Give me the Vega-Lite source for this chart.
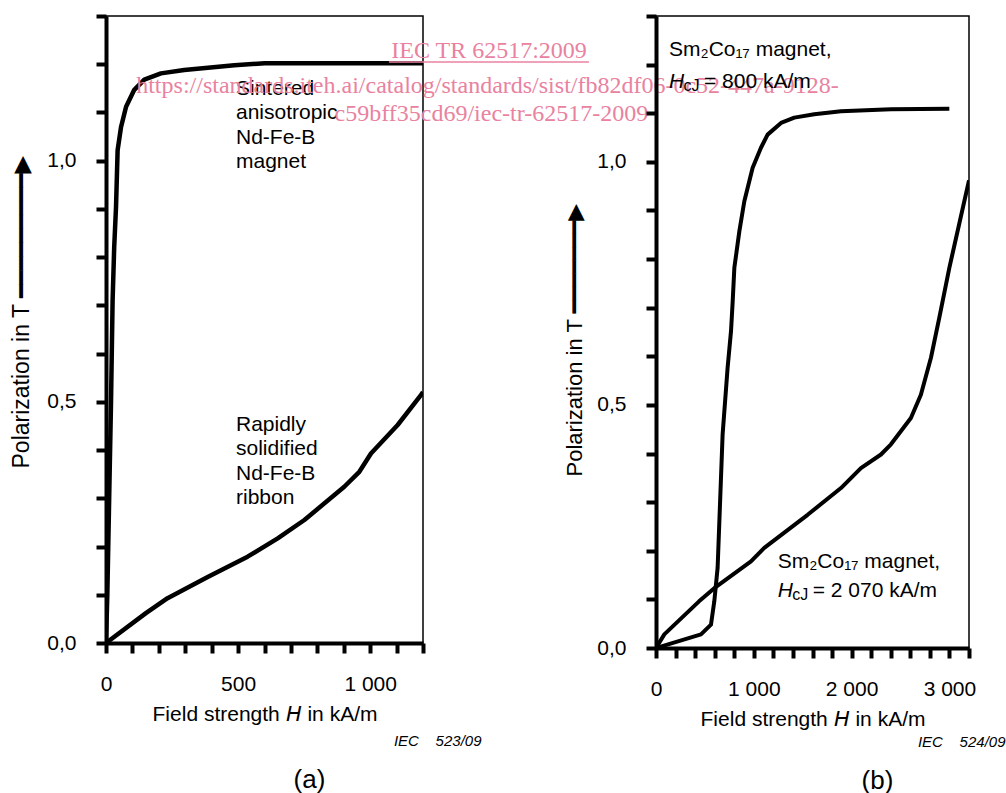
{
  "$schema": "https://vega.github.io/schema/vega-lite/v6.json",
  "background": "white",
  "padding": {"left": 9, "top": 4, "right": 0, "bottom": 0},
  "bounds": "flush",
  "spacing": 233,
  "config": {
    "font": "Liberation Sans",
    "view": {"stroke": "black", "strokeWidth": 1.5},
    "axis": {
      "domainColor": "black", "domainWidth": 4, "tickColor": "black", "tickWidth": 4, "tickSize": 10,
      "labelFont": "Liberation Sans", "labelFontSize": 21, "labelColor": "black", "labelPadding": 20,
      "labelFlush": false, "labelOverlap": false,
      "titleFont": "Liberation Sans, DejaVu Sans", "titleFontSize": 21, "titleFontWeight": "normal", "titleColor": "black",
      "grid": false
    }
  },
  "datasets": {
    "curvesA": [
      {"series": "sintered", "H": 0, "J": 0},
      {"series": "sintered", "H": 5, "J": 0.1},
      {"series": "sintered", "H": 12, "J": 0.3},
      {"series": "sintered", "H": 19, "J": 0.5},
      {"series": "sintered", "H": 25, "J": 0.71},
      {"series": "sintered", "H": 31, "J": 0.82},
      {"series": "sintered", "H": 38, "J": 0.905},
      {"series": "sintered", "H": 44, "J": 1.022},
      {"series": "sintered", "H": 57, "J": 1.07},
      {"series": "sintered", "H": 76, "J": 1.112},
      {"series": "sintered", "H": 107, "J": 1.147},
      {"series": "sintered", "H": 145, "J": 1.168},
      {"series": "sintered", "H": 208, "J": 1.181},
      {"series": "sintered", "H": 296, "J": 1.188},
      {"series": "sintered", "H": 486, "J": 1.198},
      {"series": "sintered", "H": 600, "J": 1.202},
      {"series": "sintered", "H": 1200, "J": 1.202},
      {"series": "ribbon", "H": 0, "J": 0},
      {"series": "ribbon", "H": 151, "J": 0.062},
      {"series": "ribbon", "H": 233, "J": 0.093},
      {"series": "ribbon", "H": 385, "J": 0.137},
      {"series": "ribbon", "H": 536, "J": 0.179},
      {"series": "ribbon", "H": 650, "J": 0.217},
      {"series": "ribbon", "H": 751, "J": 0.255},
      {"series": "ribbon", "H": 902, "J": 0.324},
      {"series": "ribbon", "H": 959, "J": 0.355},
      {"series": "ribbon", "H": 1003, "J": 0.393},
      {"series": "ribbon", "H": 1104, "J": 0.452},
      {"series": "ribbon", "H": 1192, "J": 0.514},
      {"series": "ribbon", "H": 1200, "J": 0.52}
    ],
    "curvesB": [
      {"series": "800", "H": 0, "J": 0},
      {"series": "800", "H": 460, "J": 0.028},
      {"series": "800", "H": 562, "J": 0.048},
      {"series": "800", "H": 596, "J": 0.096},
      {"series": "800", "H": 630, "J": 0.165},
      {"series": "800", "H": 681, "J": 0.439},
      {"series": "800", "H": 732, "J": 0.576},
      {"series": "800", "H": 767, "J": 0.652},
      {"series": "800", "H": 784, "J": 0.713},
      {"series": "800", "H": 801, "J": 0.782},
      {"series": "800", "H": 852, "J": 0.857},
      {"series": "800", "H": 903, "J": 0.919},
      {"series": "800", "H": 988, "J": 0.988},
      {"series": "800", "H": 1073, "J": 1.029},
      {"series": "800", "H": 1141, "J": 1.056},
      {"series": "800", "H": 1278, "J": 1.08},
      {"series": "800", "H": 1414, "J": 1.091},
      {"series": "800", "H": 1618, "J": 1.098},
      {"series": "800", "H": 1891, "J": 1.104},
      {"series": "800", "H": 2402, "J": 1.108},
      {"series": "800", "H": 2999, "J": 1.109},
      {"series": "2070", "H": 0, "J": 0},
      {"series": "2070", "H": 85, "J": 0.028},
      {"series": "2070", "H": 440, "J": 0.096},
      {"series": "2070", "H": 596, "J": 0.123},
      {"series": "2070", "H": 971, "J": 0.178},
      {"series": "2070", "H": 1107, "J": 0.206},
      {"series": "2070", "H": 1550, "J": 0.274},
      {"series": "2070", "H": 1891, "J": 0.329},
      {"series": "2070", "H": 2095, "J": 0.37},
      {"series": "2070", "H": 2300, "J": 0.398},
      {"series": "2070", "H": 2402, "J": 0.419},
      {"series": "2070", "H": 2606, "J": 0.473},
      {"series": "2070", "H": 2708, "J": 0.521},
      {"series": "2070", "H": 2811, "J": 0.597},
      {"series": "2070", "H": 2896, "J": 0.679},
      {"series": "2070", "H": 2999, "J": 0.782},
      {"series": "2070", "H": 3200, "J": 0.962}
    ],
    "labelsA": [
      {"H": 492, "J": 1.136, "text": "Sintered\nanisotropic\nNd-Fe-B\nmagnet"},
      {"H": 492, "J": 0.4395, "text": "Rapidly\nsolidified\nNd-Fe-B\nribbon"}
    ],
    "watermark": [
      {"H": 1450, "J": 1.2129, "text": "IEC TR 62517:2009"},
      {"H": 1444, "J": 1.1403, "text": "https://standards.iteh.ai/catalog/standards/sist/fb82df06-0c52-447a-9128-"},
      {"H": 1459, "J": 1.0823, "text": "c59bff35cd69/iec-tr-62517-2009"}
    ],
    "underline": [
      {"H": 1071, "H2": 1828, "J": 1.2046}
    ],
    "labelsB": [
      {"H": 133, "J": 1.2177, "text": "Sm₂Co₁₇ magnet,"},
      {"H": 1244, "J": 0.1648, "text": "Sm₂Co₁₇ magnet,"}
    ],
    "hcjB": [
      {"H": 133, "J": 1.1519, "text": "= 800 kA/m"},
      {"H": 1244, "J": 0.1045, "text": "= 2 070 kA/m"}
    ]
  },
  "hconcat": [
    {
      "width": 317,
      "height": 627,
      "resolve": {"axis": {"x": "independent"}},
      "layer": [
        {
          "data": {"name": "curvesA"},
          "mark": {"type": "line", "color": "black", "strokeWidth": 4.5, "strokeJoin": "round", "clip": true},
          "encoding": {
            "x": {
              "field": "H", "type": "quantitative",
              "scale": {"domain": [0, 1200], "nice": false, "zero": false},
              "axis": {
                "values": [0, 100, 200, 300, 400, 500, 600, 700, 800, 900, 1000, 1100, 1200],
                "labelExpr": "datum.value % 500 === 0 ? replace(format(datum.value, ','), ',', ' ') : ''",
                "title": "Field strength 𝘏 in kA/m",
                "titlePadding": 9
              }
            },
            "y": {
              "field": "J", "type": "quantitative",
              "scale": {"domain": [0, 1.3], "nice": false},
              "axis": {
                "values": [0, 0.1, 0.2, 0.3, 0.4, 0.5, 0.6, 0.7, 0.8, 0.9, 1, 1.1, 1.2, 1.3],
                "labelExpr": "round(datum.value * 10) % 5 === 0 ? replace(format(datum.value, '.1f'), '.', ',') : ''",
                "title": "Polarization in T ━━━━━━━━━▶",
                "titleFontSize": 23,
                "titleAngle": 270,
                "titleAlign": "left",
                "titleBaseline": "alphabetic",
                "titleX": -78,
                "titleY": 452
              }
            },
            "detail": {"field": "series", "type": "nominal"}
          }
        },
        {
          "data": {"name": "labelsA"},
          "mark": {"type": "text", "align": "left", "baseline": "alphabetic", "fontSize": 21, "lineBreak": "\n", "lineHeight": 24.3, "color": "black"},
          "encoding": {
            "x": {
              "field": "H", "type": "quantitative",
              "axis": {
                "orient": "bottom", "labels": false, "ticks": false, "domain": false,
                "title": "IEC\u00a0\u00a0\u00a0\u00a0523/09",
                "titleFontStyle": "italic", "titleFontSize": 15,
                "titleAlign": "right", "titleBaseline": "alphabetic",
                "titleX": 375, "titleY": 102.7
              }
            },
            "y": {"field": "J", "type": "quantitative"},
            "text": {"field": "text", "type": "nominal"}
          }
        },
        {
          "data": {"name": "watermark"},
          "mark": {"type": "text", "align": "center", "baseline": "alphabetic", "font": "Liberation Serif", "fontSize": 24, "color": "#e9829f"},
          "encoding": {
            "x": {
              "field": "H", "type": "quantitative",
              "axis": {
                "orient": "bottom", "labels": false, "ticks": false, "domain": false,
                "title": "(a)",
                "titleFontSize": 26,
                "titleAlign": "center", "titleBaseline": "alphabetic",
                "titleX": 203, "titleY": 144
              }
            },
            "y": {"field": "J", "type": "quantitative"},
            "text": {"field": "text", "type": "nominal"}
          }
        },
        {
          "data": {"name": "underline"},
          "mark": {"type": "rule", "color": "#e9829f", "strokeWidth": 1.5},
          "encoding": {
            "x": {"field": "H", "type": "quantitative", "axis": null},
            "x2": {"field": "H2"},
            "y": {"field": "J", "type": "quantitative"}
          }
        }
      ]
    },
    {
      "width": 313,
      "height": 632,
      "resolve": {"axis": {"x": "independent"}},
      "layer": [
        {
          "data": {"name": "curvesB"},
          "mark": {"type": "line", "color": "black", "strokeWidth": 4, "strokeJoin": "round", "clip": true},
          "encoding": {
            "x": {
              "field": "H", "type": "quantitative",
              "scale": {"domain": [0, 3200], "nice": false, "zero": false},
              "axis": {
                "values": [0, 200, 400, 600, 800, 1000, 1200, 1400, 1600, 1800, 2000, 2200, 2400, 2600, 2800, 3000, 3200],
                "labelExpr": "datum.value % 1000 === 0 ? replace(format(datum.value, ','), ',', ' ') : ''",
                "title": "Field strength 𝘏 in kA/m",
                "titlePadding": 9
              }
            },
            "y": {
              "field": "J", "type": "quantitative",
              "scale": {"domain": [0, 1.3], "nice": false},
              "axis": {
                "values": [0, 0.1, 0.2, 0.3, 0.4, 0.5, 0.6, 0.7, 0.8, 0.9, 1, 1.1, 1.2, 1.3],
                "labelExpr": "round(datum.value * 10) % 5 === 0 ? replace(format(datum.value, '.1f'), '.', ',') : ''",
                "title": "Polarization in T ━━━━━━━▶",
                "titleFontSize": 22,
                "titleAngle": 270,
                "titleAlign": "left",
                "titleBaseline": "alphabetic",
                "titleX": -75,
                "titleY": 460
              }
            },
            "detail": {"field": "series", "type": "nominal"}
          }
        },
        {
          "data": {"name": "labelsB"},
          "mark": {"type": "text", "align": "left", "baseline": "alphabetic", "fontSize": 21, "font": "Liberation Sans, DejaVu Sans", "color": "black"},
          "encoding": {
            "x": {
              "field": "H", "type": "quantitative",
              "axis": {
                "orient": "bottom", "labels": false, "ticks": false, "domain": false,
                "title": "IEC\u00a0\u00a0\u00a0\u00a0524/09",
                "titleFontStyle": "italic", "titleFontSize": 15,
                "titleAlign": "right", "titleBaseline": "alphabetic",
                "titleX": 349, "titleY": 98.5
              }
            },
            "y": {"field": "J", "type": "quantitative"},
            "text": {"field": "text", "type": "nominal"}
          }
        },
        {
          "data": {"name": "hcjB"},
          "mark": {"type": "text", "align": "left", "baseline": "alphabetic", "fontSize": 21, "fontStyle": "italic", "text": "H", "color": "black"},
          "encoding": {
            "x": {
              "field": "H", "type": "quantitative",
              "axis": {
                "orient": "bottom", "labels": false, "ticks": false, "domain": false,
                "title": "(b)",
                "titleFontSize": 26,
                "titleAlign": "center", "titleBaseline": "alphabetic",
                "titleX": 221, "titleY": 140.3
              }
            },
            "y": {"field": "J", "type": "quantitative"}
          }
        },
        {
          "data": {"name": "hcjB"},
          "mark": {"type": "text", "align": "left", "baseline": "alphabetic", "fontSize": 16, "text": "cJ", "dx": 14.5, "dy": 3, "color": "black"},
          "encoding": {
            "x": {"field": "H", "type": "quantitative", "axis": null},
            "y": {"field": "J", "type": "quantitative"}
          }
        },
        {
          "data": {"name": "hcjB"},
          "mark": {"type": "text", "align": "left", "baseline": "alphabetic", "fontSize": 21, "dx": 35, "color": "black"},
          "encoding": {
            "x": {"field": "H", "type": "quantitative", "axis": null},
            "y": {"field": "J", "type": "quantitative"},
            "text": {"field": "text", "type": "nominal"}
          }
        }
      ]
    }
  ]
}
